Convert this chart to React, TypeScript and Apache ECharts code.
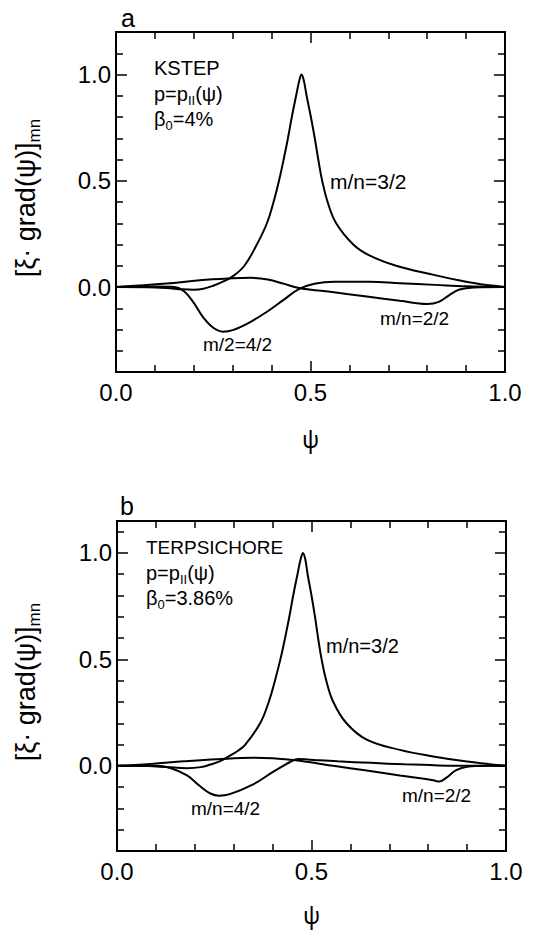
import React, { useEffect, useRef } from "react";
import * as echarts from "echarts";

// ---------- Data ----------
// Panel a (KSTEP)
const psiA32 = [0, 0.08, 0.13, 0.17, 0.2, 0.225, 0.25, 0.275, 0.3, 0.33, 0.362, 0.388, 0.405, 0.419, 0.431, 0.442, 0.452, 0.463, 0.471, 0.477, 0.483, 0.49, 0.501, 0.511, 0.52, 0.53, 0.544, 0.566, 0.61, 0.65, 0.72, 0.81, 0.9, 0.96, 1.0];
const valA32 = [0, -0.001, -0.005, -0.011, -0.013, -0.008, 0.006, 0.025, 0.05, 0.1, 0.2, 0.3, 0.4, 0.5, 0.6, 0.7, 0.8, 0.9, 0.97, 1.0, 0.97, 0.9, 0.8, 0.7, 0.6, 0.5, 0.4, 0.3, 0.2, 0.15, 0.1, 0.06, 0.025, 0.008, 0];

const psiA42 = [0, 0.1, 0.15, 0.175, 0.2, 0.225, 0.25, 0.275, 0.3, 0.345, 0.39, 0.43, 0.47, 0.51, 0.56, 0.65, 0.73, 0.82, 0.9, 1.0];
const valA42 = [0, 0.002, 0.0, -0.02, -0.075, -0.145, -0.192, -0.21, -0.203, -0.165, -0.114, -0.062, -0.01, 0.015, 0.025, 0.025, 0.018, 0.01, 0.003, 0];

const psiA22 = [0, 0.13, 0.215, 0.3, 0.345, 0.39, 0.43, 0.47, 0.52, 0.56, 0.645, 0.73, 0.8, 0.83, 0.857, 0.883, 0.92, 1.0];
const valA22 = [0, 0.016, 0.032, 0.041, 0.043, 0.035, 0.016, -0.005, -0.016, -0.025, -0.045, -0.065, -0.08, -0.07, -0.038, -0.012, -0.002, 0];

// Panel b (TERPSICHORE)
const psiB32 = [0, 0.08, 0.128, 0.18, 0.215, 0.24, 0.265, 0.285, 0.312, 0.33, 0.368, 0.39, 0.406, 0.42, 0.432, 0.443, 0.453, 0.464, 0.472, 0.478, 0.484, 0.49, 0.5, 0.509, 0.517, 0.526, 0.538, 0.556, 0.59, 0.642, 0.727, 0.813, 0.9, 1.0];
const valB32 = [0, -0.001, -0.006, -0.011, -0.006, 0.006, 0.022, 0.042, 0.072, 0.1, 0.2, 0.3, 0.4, 0.5, 0.6, 0.7, 0.8, 0.9, 0.97, 1.0, 0.97, 0.9, 0.8, 0.7, 0.6, 0.5, 0.4, 0.3, 0.2, 0.123, 0.075, 0.044, 0.02, 0];

const psiB42 = [0, 0.1, 0.137, 0.18, 0.213, 0.24, 0.262, 0.29, 0.35, 0.4, 0.445, 0.466, 0.49, 0.52, 0.567, 0.653, 0.739, 0.825, 0.9, 1.0];
const valB42 = [0, 0, -0.01, -0.045, -0.095, -0.13, -0.14, -0.133, -0.087, -0.03, 0.018, 0.032, 0.03, 0.026, 0.021, 0.014, 0.007, 0.002, 0, 0];

const psiB22 = [0, 0.086, 0.172, 0.257, 0.35, 0.4, 0.445, 0.47, 0.513, 0.556, 0.642, 0.727, 0.813, 0.828, 0.847, 0.872, 0.9, 0.95, 1.0];
const valB22 = [0, 0.009, 0.021, 0.031, 0.038, 0.036, 0.029, 0.024, 0.012, 0.0, -0.022, -0.045, -0.068, -0.074, -0.055, -0.02, -0.004, 0, 0];

// Ticks
const xMajorTicks = [0, 0.5, 1.0];
const xMinorTicks = [0.1, 0.2, 0.3, 0.4, 0.6, 0.7, 0.8, 0.9];
const yMajorTicks = [0, 0.5, 1.0];
const yMinorTicks = [-0.3, -0.2, -0.1, 0.1, 0.2, 0.3, 0.4, 0.6, 0.7, 0.8, 0.9, 1.1];

const yRangeA = [-0.4, 1.2];
const yRangeB = [-0.4, 1.15];

const FONT = "'Liberation Sans', Arial, Helvetica, sans-serif";

function zip(xs: number[], ys: number[]) {
  return xs.map((x, i) => [x, ys[i]]);
}

const tickLine = { color: "#000", width: 1.5 };

function makeXAxes(gridIndex: number, nameGap: number) {
  const base: any = {
    type: "value",
    gridIndex,
    min: 0,
    max: 1,
    splitLine: { show: false },
    axisLine: { show: false, onZero: false },
  };
  return [
    {
      ...base,
      position: "bottom",
      axisTick: { show: true, inside: true, length: 11, customValues: xMajorTicks, lineStyle: tickLine },
      axisLabel: {
        show: true,
        customValues: xMajorTicks,
        formatter: (v: number) => v.toFixed(1),
        fontSize: 24,
        color: "#000",
        fontFamily: FONT,
        margin: 8,
      },
      name: "ψ",
      nameLocation: "middle",
      nameGap,
      nameTextStyle: { fontSize: 23, lineHeight: 20, color: "#000", fontFamily: "'Noto Sans', 'DejaVu Sans', sans-serif" },
    },
    {
      ...base,
      position: "bottom",
      axisTick: { show: true, inside: true, length: 7, customValues: xMinorTicks, lineStyle: tickLine },
      axisLabel: { show: false },
    },
    {
      ...base,
      position: "top",
      axisTick: { show: true, inside: true, length: 11, customValues: xMajorTicks, lineStyle: tickLine },
      axisLabel: { show: false },
    },
    {
      ...base,
      position: "top",
      axisTick: { show: true, inside: true, length: 7, customValues: xMinorTicks, lineStyle: tickLine },
      axisLabel: { show: false },
    },
  ];
}

function makeYAxes(gridIndex: number, range: number[]) {
  const base: any = {
    type: "value",
    gridIndex,
    min: range[0],
    max: range[1],
    splitLine: { show: false },
    axisLine: { show: false, onZero: false },
  };
  return [
    {
      ...base,
      position: "left",
      axisTick: { show: true, inside: true, length: 11, customValues: yMajorTicks, lineStyle: tickLine },
      axisLabel: {
        show: true,
        customValues: yMajorTicks,
        formatter: (v: number) => v.toFixed(1),
        fontSize: 24,
        color: "#000",
        fontFamily: FONT,
        margin: 5,
      },
    },
    {
      ...base,
      position: "left",
      axisTick: { show: true, inside: true, length: 7, customValues: yMinorTicks, lineStyle: tickLine },
      axisLabel: { show: false },
    },
    {
      ...base,
      position: "right",
      axisTick: { show: true, inside: true, length: 11, customValues: yMajorTicks, lineStyle: tickLine },
      axisLabel: { show: false },
    },
    {
      ...base,
      position: "right",
      axisTick: { show: true, inside: true, length: 7, customValues: yMinorTicks, lineStyle: tickLine },
      axisLabel: { show: false },
    },
  ];
}

function lineSeries(name: string, data: number[][], axisIndex: number) {
  return {
    name,
    type: "line",
    xAxisIndex: axisIndex,
    yAxisIndex: axisIndex,
    data,
    showSymbol: false,
    symbol: "none",
    smooth: 0.4,
    lineStyle: { color: "#000", width: 2 },
    z: 3,
  };
}

const subRich = {
  n: { fontSize: 20, lineHeight: 26, verticalAlign: "middle", fontFamily: FONT, fill: "#000", color: "#000" },
  s: { fontSize: 13, lineHeight: 13, verticalAlign: "bottom", fontFamily: FONT, fill: "#000", color: "#000" },
};

const titleRich = {
  m: { fontSize: 27, lineHeight: 34, verticalAlign: "middle", fontFamily: FONT, fill: "#000", color: "#000" },
  s: { fontSize: 17, lineHeight: 17, verticalAlign: "bottom", fontFamily: FONT, fill: "#000", color: "#000" },
};

function txt(x: number, y: number, text: string, fontSize = 20, rich = false) {
  return {
    type: "text",
    x,
    y,
    z: 10,
    style: {
      text,
      fill: "#000",
      fontSize,
      fontFamily: FONT,
      textVerticalAlign: "middle",
      verticalAlign: "middle",
      ...(rich ? { rich: subRich } : {}),
    },
  };
}

function yTitle(y: number) {
  return {
    type: "text",
    x: 26,
    y,
    rotation: Math.PI / 2,
    z: 10,
    style: {
      text: "{m|[ξ· grad(ψ)]}{s|mn}",
      rich: titleRich,
      fill: "#000",
      fontFamily: FONT,
      align: "center",
      textAlign: "center",
      verticalAlign: "middle",
      textVerticalAlign: "middle",
    },
  };
}

export default function App() {
  const ref = useRef<HTMLDivElement>(null);

  useEffect(() => {
    if (!ref.current) return;
    const chart = echarts.init(ref.current, undefined, { renderer: "svg" });
    const option: any = {
      animation: false,
      backgroundColor: "#fff",
      grid: [
        { left: 116, top: 32, width: 389, height: 340, show: true, borderColor: "#000", borderWidth: 2, backgroundColor: "transparent" },
        { left: 117, top: 521, width: 389, height: 330, show: true, borderColor: "#000", borderWidth: 2, backgroundColor: "transparent" },
      ],
      xAxis: [...makeXAxes(0, 57), ...makeXAxes(1, 54)],
      yAxis: [...makeYAxes(0, yRangeA), ...makeYAxes(1, yRangeB)],
      series: [
        lineSeries("m/n=3/2 (a)", zip(psiA32, valA32), 0),
        lineSeries("m/2=4/2 (a)", zip(psiA42, valA42), 0),
        lineSeries("m/n=2/2 (a)", zip(psiA22, valA22), 0),
        lineSeries("m/n=3/2 (b)", zip(psiB32, valB32), 4),
        lineSeries("m/n=4/2 (b)", zip(psiB42, valB42), 4),
        lineSeries("m/n=2/2 (b)", zip(psiB22, valB22), 4),
      ],
      graphic: [
        yTitle(198),
        yTitle(682),
        txt(121, 18, "a", 25),
        txt(120, 506, "b", 25),
        // panel a annotations
        txt(154, 68, "KSTEP", 20),
        txt(154, 94, "{n|p=p}{s|II}{n|(ψ)}", 20, true),
        txt(154, 119, "{n|β}{s|0}{n|=4%}", 20, true),
        txt(330, 181, "m/n=3/2", 21),
        txt(380, 318, "m/n=2/2", 19),
        txt(203, 344, "m/2=4/2", 19),
        // panel b annotations
        txt(146, 547, "TERPSICHORE", 19),
        txt(146, 573, "{n|p=p}{s|II}{n|(ψ)}", 20, true),
        txt(146, 598, "{n|β}{s|0}{n|=3.86%}", 20, true),
        txt(326, 646, "m/n=3/2", 20),
        txt(402, 795, "m/n=2/2", 19),
        txt(191, 808, "m/n=4/2", 19),
      ],
    };
    chart.setOption(option);
    return () => chart.dispose();
  }, []);

  return (
    <div
      ref={ref}
      style={{ position: "absolute", left: 0, top: 0, width: 549, height: 930, background: "#fff" }}
    />
  );
}
